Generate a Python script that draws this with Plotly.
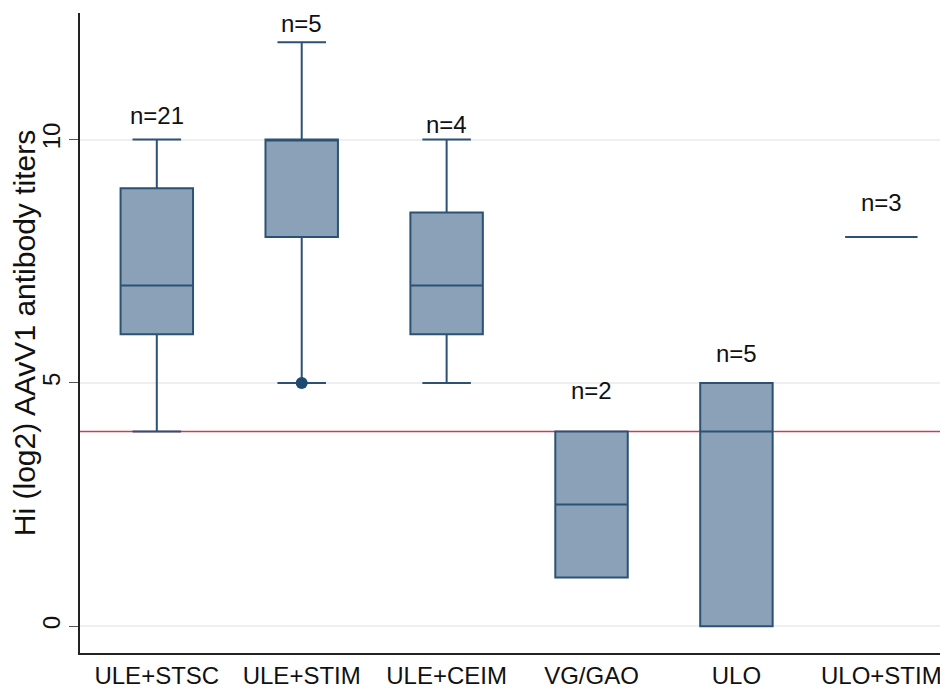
import plotly.graph_objects as go

categories = ["ULE+STSC", "ULE+STIM", "ULE+CEIM", "VG/GAO", "ULO", "ULO+STIM"]
q1 = [6, 8, 6, 1, 0, 8]
median = [7, 10, 7, 2.5, 4, 8]
q3 = [9, 10, 8.5, 4, 5, 8]
lowerfence = [4, 5, 5, 1, 0, 8]
upperfence = [10, 12, 10, 4, 5, 8]
n_labels = ["n=21", "n=5", "n=4", "n=2", "n=5", "n=3"]
n_label_y = [10.5, 12.38, 10.3, 4.85, 5.6, 8.7]
outlier_cat = ["ULE+STIM"]
outlier_val = [5]
reference_value = 4

fill = "#8aa1b8"
edge = "#2b5275"
FONT = "Liberation Sans, Arial"

fig = go.Figure()
for i, c in enumerate(categories):
    fig.add_trace(go.Box(
        x=[c], q1=[q1[i]], median=[median[i]], q3=[q3[i]],
        lowerfence=[lowerfence[i]], upperfence=[upperfence[i]],
        fillcolor=fill, line=dict(color=edge, width=2),
        width=0.5, whiskerwidth=0.67, boxpoints=False, showlegend=False,
        hoverinfo="skip",
    ))

fig.add_trace(go.Scatter(
    x=outlier_cat, y=outlier_val, mode="markers",
    marker=dict(color="#1d4a73", size=12), showlegend=False, hoverinfo="skip",
))

fig.add_shape(type="line", xref="paper", x0=0, x1=1, yref="y",
              y0=reference_value, y1=reference_value,
              line=dict(color="#c4405a", width=1.5), layer="below")

for c, t, y in zip(categories, n_labels, n_label_y):
    fig.add_annotation(x=c, y=y, text=t, showarrow=False, borderpad=0,
                       font=dict(size=24, color="#111", family=FONT))

fig.update_layout(
    width=940, height=681,
    margin=dict(l=72, r=0, t=5, b=34),
    paper_bgcolor="white", plot_bgcolor="white",
    font=dict(family=FONT, size=23, color="#111"),
    xaxis=dict(type="category", categoryorder="array", categoryarray=categories,
               range=[-0.53, 5.46], showline=True, linecolor="#222", linewidth=1.5,
               ticks="", showgrid=False, tickfont=dict(size=24)),
    yaxis=dict(range=[-0.55, 12.6], tickvals=[0, 5, 10], ticktext=["0", "5", "10"],
               tickangle=-90, ticks="outside", ticklen=9, tickcolor="#555",
               showline=True, linecolor="#222", linewidth=1.5,
               showgrid=True, gridcolor="#efefef", gridwidth=1.5, zeroline=False,
               title=dict(text="Hi (log2) AAvV1 antibody titers", font=dict(size=30), standoff=6),
               tickfont=dict(size=24)),
)

fig.write_html("out.html")
